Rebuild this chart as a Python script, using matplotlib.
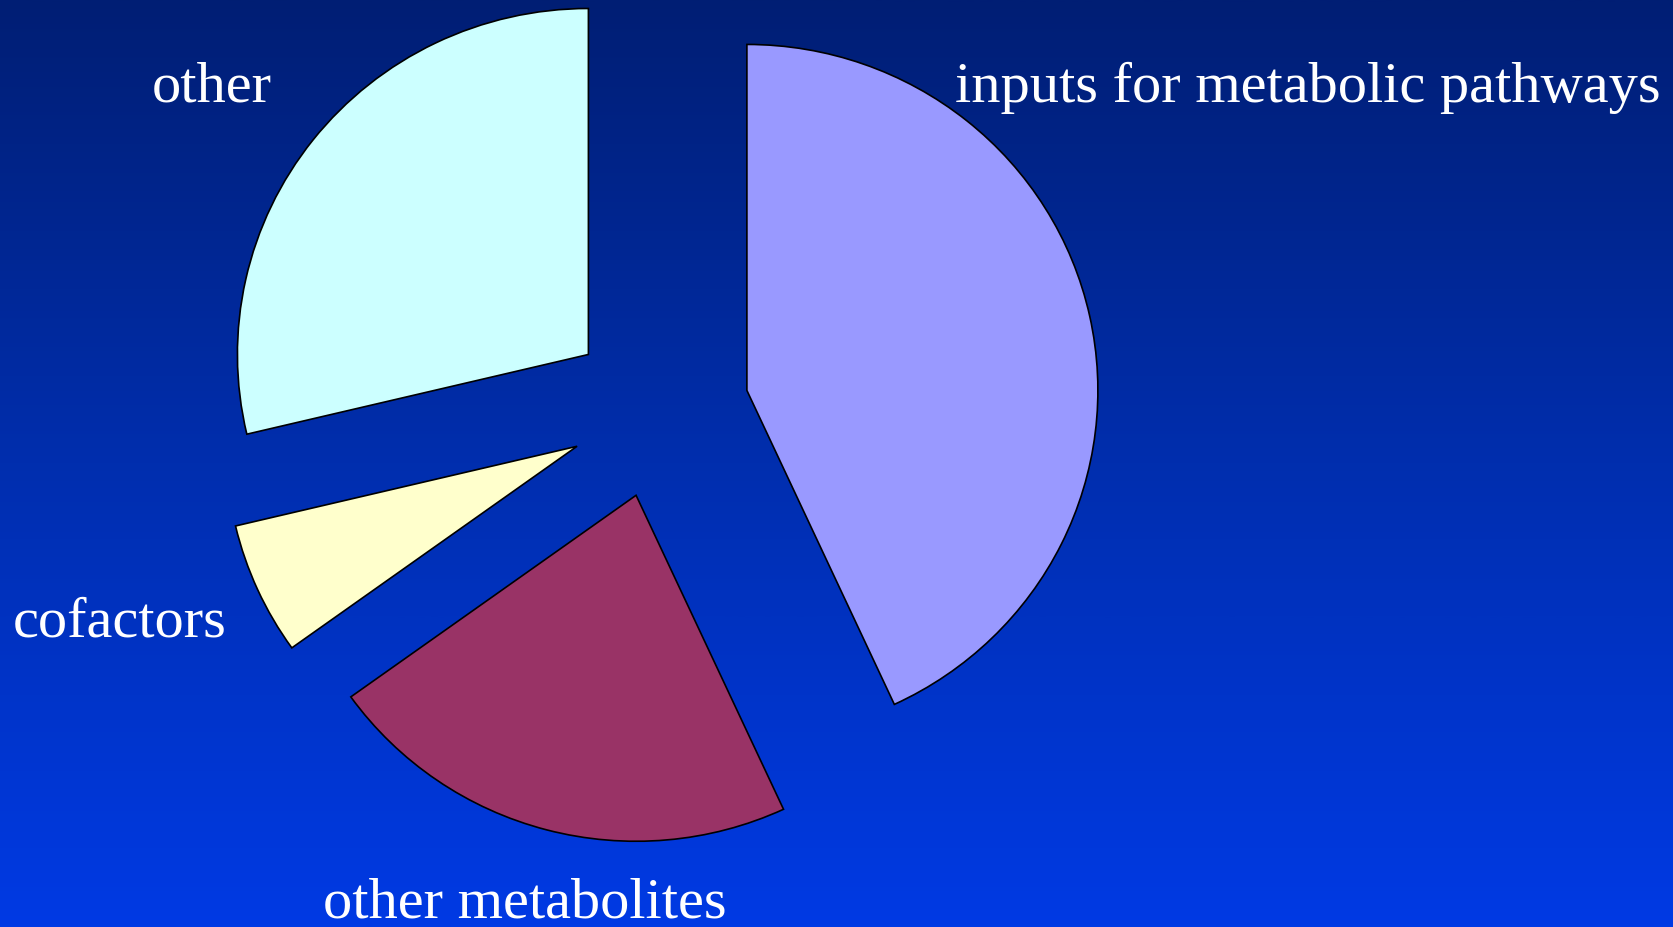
import numpy as np
import matplotlib
matplotlib.use("Agg")
import matplotlib.pyplot as plt
from matplotlib.colors import LinearSegmentedColormap

# Share of compounds by role (percent)
categories = ["inputs for metabolic pathways", "other metabolites", "cofactors", "other"]
shares = [43.1, 22.0, 6.2, 28.7]
slice_colors = ["#9999FF", "#993366", "#FFFFCC", "#CCFFFF"]

W, H = 1674, 928
fig = plt.figure(figsize=(W / 100, H / 100), dpi=100)

# Vertical blue gradient background
bg = fig.add_axes([0, 0, 1, 1])
grad = np.linspace(0, 1, 512).reshape(-1, 1)
cmap = LinearSegmentedColormap.from_list("slide", ["#001E74", "#002EAE", "#003AE4"])
bg.imshow(grad, aspect="auto", cmap=cmap, extent=[0, 1, 0, 1], origin="upper")
bg.set_axis_off()

# Slightly flattened pie: y data units are stretched relative to pixels
k = 1.0145
ax = fig.add_axes([0, 0, 1, 1])
ax.patch.set_alpha(0)
radius = 351
explode_px = 90
ax.pie(
    shares,
    colors=slice_colors,
    startangle=90,
    counterclock=False,
    center=(659, (H - 410.5) * k),
    radius=radius,
    explode=[explode_px] * len(shares),
    wedgeprops=dict(edgecolor="black", linewidth=1.2),
)
ax.set_aspect("auto")
ax.set_xlim(0, W)
ax.set_ylim(0, H * k)
ax.set_axis_off()

# Slice captions (pixel positions from top-left, baseline-anchored)
label_pos = {
    "inputs for metabolic pathways": (955, 102),
    "other metabolites": (323, 918),
    "cofactors": (13, 637),
    "other": (152, 102),
}
for name in categories:
    x, y = label_pos[name]
    ax.text(x, (H - y) * k, name, color="white", fontsize=42, family="Liberation Serif",
            ha="left", va="baseline")

fig.savefig("out.png", dpi=100)
